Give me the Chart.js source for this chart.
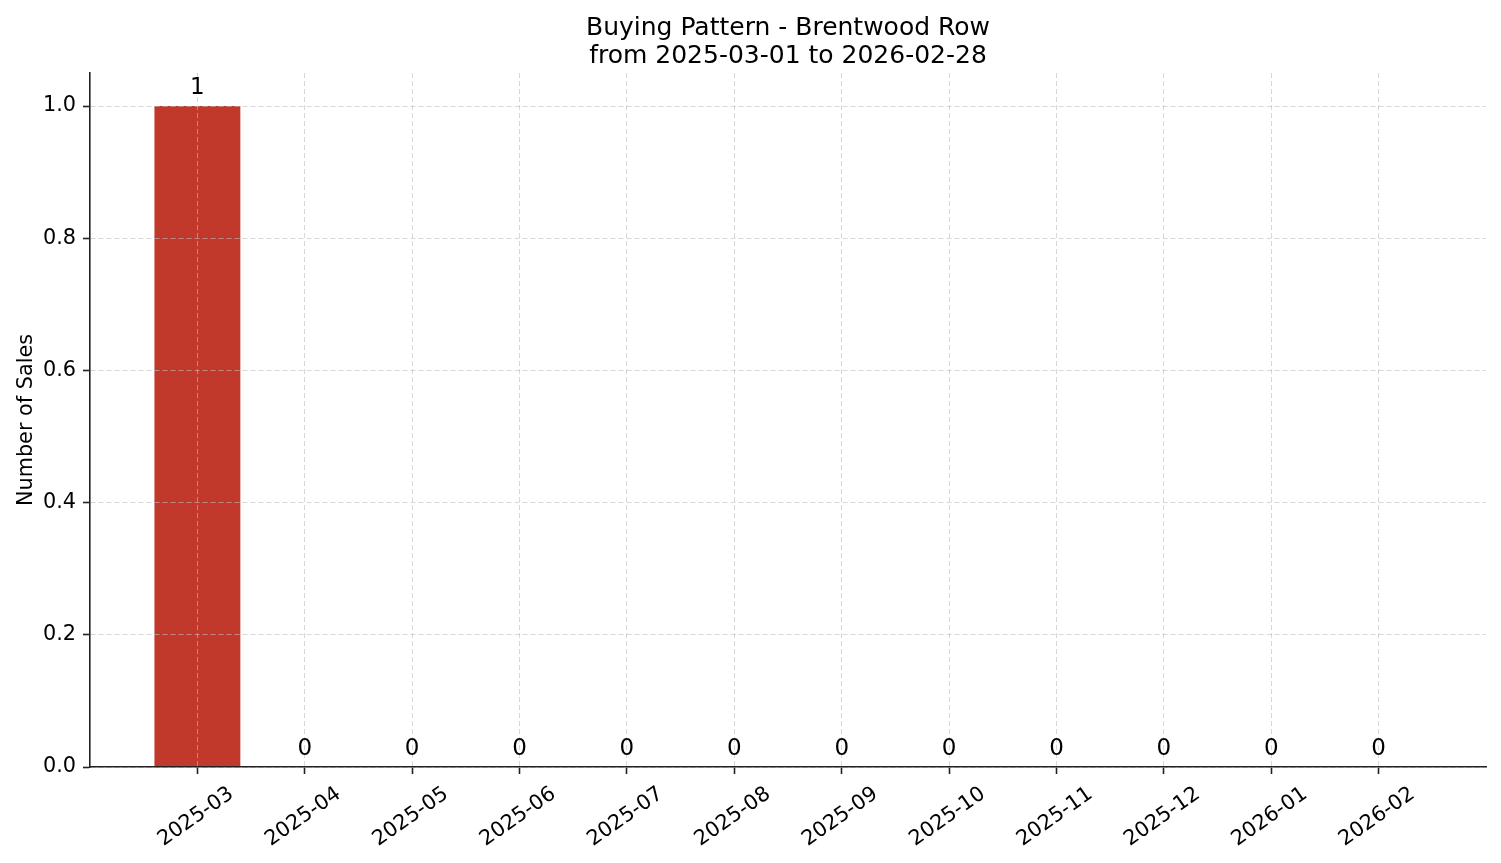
<!DOCTYPE html>
<html>
<head>
<meta charset="utf-8">
<script src="https://cdn.jsdelivr.net/npm/chart.js@4/dist/chart.umd.min.js"></script>
<style>
  html, body { margin: 0; padding: 0; background: #ffffff; }
  canvas { display: block; }
</style>
</head>
<body>
<canvas id="c" width="1501" height="863"></canvas>
<script>
const months = ['2025-03','2025-04','2025-05','2025-06','2025-07','2025-08','2025-09','2025-10','2025-11','2025-12','2026-01','2026-02'];
const sales = [1,0,0,0,0,0,0,0,0,0,0,0];
const yTicks = [0, 0.2, 0.4, 0.6, 0.8, 1.0];
const titleLines = ['Buying Pattern - Brentwood Row', 'from 2025-03-01 to 2026-02-28'];
const yTitle = 'Number of Sales';

const FONT = '"DejaVu Sans", sans-serif';
const AXIS = '#222222';
const GRID = 'rgba(190,190,190,0.6)';

const textPlugin = {
  id: 'textPlugin',
  afterDraw(chart) {
    const ctx = chart.ctx;
    const area = chart.chartArea;
    const xs = chart.scales.x;
    ctx.save();
    ctx.fillStyle = '#000';
    // Title
    ctx.font = '25px ' + FONT;
    ctx.textAlign = 'center';
    ctx.textBaseline = 'alphabetic';
    const cx = (area.left + area.right) / 2;
    ctx.fillText(titleLines[0], cx, 34.5);
    ctx.fillText(titleLines[1], cx, 63);
    // Y title
    ctx.save();
    ctx.translate(32, (area.top + area.bottom) / 2);
    ctx.rotate(-Math.PI / 2);
    ctx.font = '20.8px ' + FONT;
    ctx.textAlign = 'center';
    ctx.textBaseline = 'alphabetic';
    ctx.fillText(yTitle, 0, 0);
    ctx.restore();
    // X tick labels, rotated 35deg, centred under tick
    ctx.font = '20.8px ' + FONT;
    ctx.textAlign = 'center';
    ctx.textBaseline = 'middle';
    months.forEach((m, i) => {
      const px = xs.getPixelForValue(i);
      ctx.save();
      ctx.translate(px - 1.5, 817);
      ctx.rotate(-35 * Math.PI / 180);
      ctx.fillText(m, 0, 0);
      ctx.restore();
    });
    // Value labels
    const meta = chart.getDatasetMeta(0);
    ctx.font = '23px ' + FONT;
    ctx.textAlign = 'center';
    ctx.textBaseline = 'alphabetic';
    meta.data.forEach((el, i) => {
      ctx.fillText(String(sales[i]), el.x, el.y - 12);
    });
    ctx.restore();
  }
};

new Chart(document.getElementById('c'), {
  type: 'bar',
  data: {
    datasets: [{
      data: months.map((m, i) => ({ x: i, y: sales[i] })),
      backgroundColor: '#c0392b',
      borderWidth: 0,
      barPercentage: 0.8,
      categoryPercentage: 1.0
    }]
  },
  options: {
    responsive: false,
    animation: false,
    devicePixelRatio: 1,
    layout: { padding: { top: 73, right: 15, left: 0, bottom: 0 } },
    plugins: {
      legend: { display: false },
      title: { display: false },
      tooltip: { enabled: false }
    },
    scales: {
      x: {
        type: 'linear',
        min: -1.0,
        max: 12.0,
        offset: false,
        afterBuildTicks: (s) => { s.ticks = months.map((m, i) => ({ value: i })); },
        afterFit: (s) => { s.height = 96; },
        ticks: { display: false },
        grid: {
          z: 1,
          offset: false,
          color: GRID,
          lineWidth: 1,
          drawTicks: true,
          tickLength: 7,
          tickColor: AXIS,
          tickWidth: 1.6,
          tickBorderDash: []
        },
        border: { display: true, color: AXIS, width: 1.6, dash: [5, 3], z: 2 }
      },
      y: {
        min: 0,
        max: 1.05,
        afterBuildTicks: (s) => { s.ticks = yTicks.map(v => ({ value: v })); },
        afterFit: (s) => { s.width = 90; },
        ticks: {
          color: '#000',
          font: { family: FONT, size: 20.8 },
          padding: 7,
          callback: (v) => Number(v).toFixed(1)
        },
        grid: {
          z: 1,
          color: GRID,
          lineWidth: 1,
          drawTicks: true,
          tickLength: 7,
          tickColor: AXIS,
          tickWidth: 1.6,
          tickBorderDash: []
        },
        border: { display: true, color: AXIS, width: 1.6, dash: [5, 3], z: 2 }
      }
    }
  },
  plugins: [textPlugin]
});
</script>
</body>
</html>
